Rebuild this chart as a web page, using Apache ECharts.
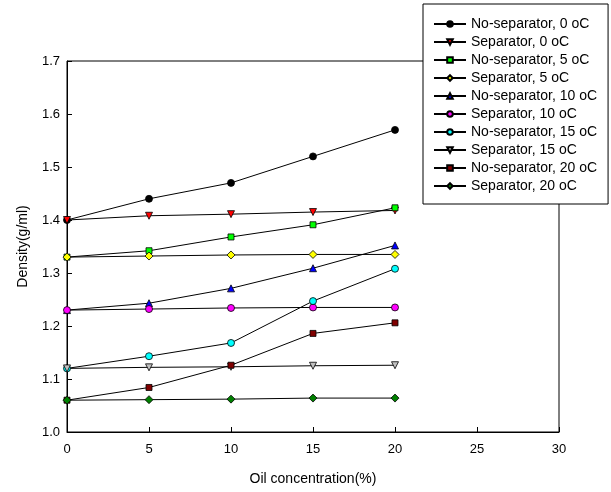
<!DOCTYPE html>
<html>
<head>
<meta charset="utf-8">
<script src="https://cdn.jsdelivr.net/npm/echarts@6/dist/echarts.min.js"></script>
<style>
  html, body { margin: 0; padding: 0; background: #fff; }
  #chart { width: 611px; height: 492px; }
</style>
</head>
<body>
<div id="chart"></div>
<script>
// oil concentration (%)
const oilConc = [0, 5, 10, 15, 20]

// density (g/ml)
const noSep0  = [1.400, 1.440, 1.470, 1.520, 1.570]
const sep0    = [1.400, 1.408, 1.411, 1.415, 1.418]
const noSep5  = [1.330, 1.342, 1.368, 1.391, 1.423]
const sep5    = [1.330, 1.332, 1.334, 1.335, 1.335]
const noSep10 = [1.230, 1.243, 1.271, 1.309, 1.352]
const sep10   = [1.230, 1.232, 1.234, 1.235, 1.235]
const noSep15 = [1.120, 1.143, 1.168, 1.247, 1.308]
const sep15   = [1.120, 1.122, 1.123, 1.125, 1.126]
const noSep20 = [1.060, 1.084, 1.126, 1.186, 1.206]
const sep20   = [1.060, 1.061, 1.062, 1.064, 1.064]

const seriesDefs = [
  { name: 'No-separator, 0 oC',  data: noSep0,  symbol: 'circle',   rot: 0,   size: 7, color: '#000000' },
  { name: 'Separator, 0 oC',     data: sep0,    symbol: 'triangle', rot: 180, size: 7, color: '#ff0000' },
  { name: 'No-separator, 5 oC',  data: noSep5,  symbol: 'rect',     rot: 0,   size: 6, color: '#00ff00' },
  { name: 'Separator, 5 oC',     data: sep5,    symbol: 'diamond',  rot: 0,   size: 8, color: '#ffff00' },
  { name: 'No-separator, 10 oC', data: noSep10, symbol: 'triangle', rot: 0,   size: 7, color: '#0000ff' },
  { name: 'Separator, 10 oC',    data: sep10,   symbol: 'circle',   rot: 0,   size: 7, color: '#ff00ff' },
  { name: 'No-separator, 15 oC', data: noSep15, symbol: 'circle',   rot: 0,   size: 7, color: '#00ffff' },
  { name: 'Separator, 15 oC',    data: sep15,   symbol: 'triangle', rot: 180, size: 7, color: '#c0c0c0' },
  { name: 'No-separator, 20 oC', data: noSep20, symbol: 'rect',     rot: 0,   size: 6, color: '#800000' },
  { name: 'Separator, 20 oC',    data: sep20,   symbol: 'diamond',  rot: 0,   size: 8, color: '#008000' },
]

const chart = echarts.init(document.getElementById('chart'))

chart.setOption({
  animation: false,
  textStyle: { fontFamily: 'Liberation Sans, Arial, sans-serif' },
  grid: {
    left: 67, top: 61, right: 52, bottom: 60,
    show: true, borderColor: '#000', borderWidth: 1,
  },
  legend: {
    orient: 'vertical',
    left: 423, top: 4,
    padding: [13, 11, 11, 10],
    itemWidth: 32, itemHeight: 7, itemGap: 4,
    backgroundColor: '#fff',
    borderColor: '#000', borderWidth: 1, borderRadius: 0,
    textStyle: { fontSize: 14, color: '#000', lineHeight: 14 },
    data: seriesDefs.map(s => s.name),
  },
  xAxis: {
    type: 'value',
    min: 0, max: 30, interval: 5,
    name: 'Oil concentration(%)',
    nameLocation: 'middle', nameGap: 40,
    nameTextStyle: { fontSize: 14, color: '#000' },
    splitLine: { show: false },
    axisLine: { lineStyle: { color: '#000' } },
    axisTick: { inside: true, length: 5, lineStyle: { color: '#000' } },
    axisLabel: { fontSize: 13, color: '#000', margin: 11 },
  },
  yAxis: {
    type: 'value',
    min: 1.0, max: 1.7, interval: 0.1,
    name: 'Density(g/ml)',
    nameLocation: 'middle', nameGap: 37,
    nameTextStyle: { fontSize: 14, color: '#000' },
    splitLine: { show: false },
    axisLine: { show: true, lineStyle: { color: '#000' } },
    axisTick: { show: true, inside: true, length: 5, lineStyle: { color: '#000' } },
    axisLabel: { fontSize: 13, color: '#000', margin: 7, formatter: v => v.toFixed(1) },
  },
  series: seriesDefs.map(s => ({
    name: s.name,
    type: 'line',
    data: oilConc.map((x, i) => [x, s.data[i]]),
    symbol: s.symbol,
    symbolRotate: s.rot,
    symbolSize: s.size,
    showAllSymbol: true,
    lineStyle: { color: '#000', width: 1 },
    itemStyle: { color: s.color, borderColor: '#000', borderWidth: 0.8 },
    emphasis: { disabled: true },
  })),
})
</script>
</body>
</html>
